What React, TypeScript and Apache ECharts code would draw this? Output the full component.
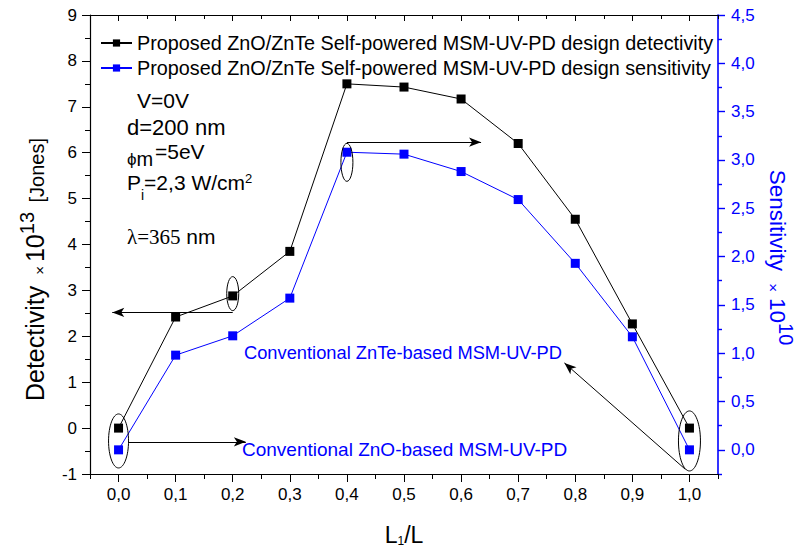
import React, { useEffect, useRef } from "react";
import * as echarts from "echarts";

// L1/L ratio along the device
const ratios = [0, 0.1, 0.2, 0.3, 0.4, 0.5, 0.6, 0.7, 0.8, 0.9, 1.0];
// Detectivity (x10^13 Jones), left axis
const detectivity = [0, 2.42, 2.88, 3.85, 7.5, 7.43, 7.17, 6.2, 4.55, 2.27, 0];
// Sensitivity (x10^10), right axis
const sensitivity = [0, 0.98, 1.18, 1.57, 3.08, 3.06, 2.88, 2.59, 1.93, 1.17, 0];

const xTicks = [0, 0.1, 0.2, 0.3, 0.4, 0.5, 0.6, 0.7, 0.8, 0.9, 1.0];
const xMinorTicks = [-0.05, 0.05, 0.15, 0.25, 0.35, 0.45, 0.55, 0.65, 0.75, 0.85, 0.95, 1.05];
const rightTicks = [0, 0.5, 1, 1.5, 2, 2.5, 3, 3.5, 4, 4.5];
const rightMinorTicks = [-0.25, 0.25, 0.75, 1.25, 1.75, 2.25, 2.75, 3.25, 3.75, 4.25];

const detLegend = "Proposed ZnO/ZnTe Self-powered MSM-UV-PD design detectivity";
const senLegend = "Proposed ZnO/ZnTe Self-powered MSM-UV-PD design sensitivity";

const BLUE = "#0000ff";
const FONT = "Liberation Sans, Arial, sans-serif";
const SERIF = "Liberation Serif, Times New Roman, serif";

// Highlight ellipses around selected points: [x, y(left axis), rx px, ry px]
const highlightEllipses = [
  [0.0, -0.28, 10, 27],
  [0.2, 2.93, 6, 17],
  [0.4, 5.79, 6, 19],
  [1.0, -0.28, 11, 30],
];

// Pointer arrows, in left-axis data units
const pointerArrows = [
  [[0.2, 2.52], [-0.011, 2.52]],
  [[0.4, 6.23], [0.635, 6.23]],
  [[0.018, -0.3], [0.223, -0.3]],
  [[0.993, -0.9], [0.781, 1.42]],
];

const fmt = (v: number) => v.toFixed(1).replace(".", ",");

export default function App() {
  const ref = useRef<HTMLDivElement>(null);

  useEffect(() => {
    document.body.style.margin = "0";
    const chart = echarts.init(ref.current!, null, { renderer: "svg" });

    const baseX = {
      type: "value",
      min: -0.05,
      max: 1.05,
      splitLine: { show: false },
    };

    const option: any = {
      animation: false,
      backgroundColor: "#ffffff",
      textStyle: { fontFamily: FONT },
      grid: { left: 90, right: 84, top: 15, bottom: 77, outerBoundsMode: "none", containLabel: false },
      legend: {
        data: [detLegend, senLegend],
        orient: "vertical",
        left: 95,
        top: 28,
        itemWidth: 31,
        itemHeight: 9,
        itemGap: 5,
        textStyle: { fontSize: 19.8, color: "#000", fontFamily: FONT },
      },
      xAxis: [
        {
          ...baseX,
          position: "bottom",
          name: "{m|L}{sub|1}{m|/L}",
          nameLocation: "middle",
          nameGap: 49,
          nameTextStyle: {
            rich: {
              m: { fontSize: 23, fontFamily: FONT, color: "#000", lineHeight: 24, verticalAlign: "top" },
              sub: { fontSize: 12, fontFamily: FONT, color: "#000", lineHeight: 12, verticalAlign: "bottom" },
            },
          },
          axisLine: { show: true, onZero: false, lineStyle: { color: "#000", width: 1.2 } },
          axisTick: { show: true, inside: false, length: 8, customValues: xTicks, lineStyle: { color: "#000" } },
          axisLabel: { show: true, customValues: xTicks, formatter: fmt, fontSize: 17, color: "#000", margin: 12, fontFamily: FONT },
        },
        {
          ...baseX,
          position: "bottom",
          axisLine: { show: false, onZero: false },
          axisTick: { show: true, inside: false, length: 5, customValues: xMinorTicks, lineStyle: { color: "#000" } },
          axisLabel: { show: false },
        },
        {
          ...baseX,
          position: "top",
          axisLine: { show: true, onZero: false, lineStyle: { color: "#000", width: 1.2 } },
          axisTick: { show: true, inside: true, length: 6, customValues: xTicks, lineStyle: { color: "#000" } },
          axisLabel: { show: false },
        },
        {
          ...baseX,
          position: "top",
          axisLine: { show: false, onZero: false },
          axisTick: { show: true, inside: true, length: 4, customValues: xMinorTicks, lineStyle: { color: "#000" } },
          axisLabel: { show: false },
        },
      ],
      yAxis: [
        {
          type: "value",
          position: "left",
          min: -1,
          max: 9,
          interval: 1,
          splitLine: { show: false },
          axisLine: { show: true, onZero: false, lineStyle: { color: "#000", width: 1.2 } },
          axisTick: { show: true, inside: false, length: 8, lineStyle: { color: "#000" } },
          minorTick: { show: true, splitNumber: 2, length: 5, lineStyle: { color: "#000" } },
          axisLabel: { fontSize: 17, color: "#000", margin: 13, fontFamily: FONT },
          name: "{m|Detectivity }{x|×}{m|10}{s|13}{j| [Jones]}",
          nameLocation: "middle",
          nameRotate: 90,
          nameGap: 43,
          nameTextStyle: {
            padding: [0, 50, 0, 0],
            rich: {
              m: { fontSize: 25, fontFamily: FONT, color: "#000", lineHeight: 30, verticalAlign: "bottom" },
              x: { fontSize: 15, fontFamily: FONT, color: "#000", lineHeight: 24, verticalAlign: "bottom", padding: [0, 4, 0, 4] },
              s: { fontSize: 20, fontFamily: FONT, color: "#000", lineHeight: 20, verticalAlign: "top", padding: [0, 4, 0, 0] },
              j: { fontSize: 20, fontFamily: FONT, color: "#000", lineHeight: 26, verticalAlign: "bottom" },
            },
          },
        },
        {
          type: "value",
          position: "right",
          min: -0.25,
          max: 4.5,
          splitLine: { show: false },
          axisLine: { show: true, onZero: false, lineStyle: { color: BLUE, width: 1.6 } },
          axisTick: { show: true, inside: false, length: 7, customValues: rightTicks, lineStyle: { color: BLUE, width: 1.4 } },
          axisLabel: { customValues: rightTicks, formatter: fmt, fontSize: 17, color: BLUE, margin: 13, fontFamily: FONT },
          name: "{m|Sensitivity }{x|×}{m|10}{s|10}",
          nameLocation: "middle",
          nameRotate: -90,
          nameGap: 48,
          nameTextStyle: {
            padding: [0, 0, 0, 26],
            rich: {
              m: { fontSize: 22.5, fontFamily: FONT, color: BLUE, lineHeight: 30, verticalAlign: "bottom" },
              x: { fontSize: 15, fontFamily: FONT, color: BLUE, lineHeight: 24, verticalAlign: "bottom", padding: [0, 6, 0, 6] },
              s: { fontSize: 20, fontFamily: FONT, color: BLUE, lineHeight: 20, verticalAlign: "top" },
            },
          },
        },
        {
          type: "value",
          position: "right",
          min: -0.25,
          max: 4.5,
          splitLine: { show: false },
          axisLine: { show: false, onZero: false },
          axisTick: { show: true, inside: false, length: 4, customValues: rightMinorTicks, lineStyle: { color: BLUE, width: 1.4 } },
          axisLabel: { show: false },
        },
      ],
      series: [
        {
          name: detLegend,
          type: "line",
          xAxisIndex: 0,
          yAxisIndex: 0,
          data: ratios.map((r, i) => [r, detectivity[i]]),
          symbol: "rect",
          symbolSize: 9,
          lineStyle: { color: "#000", width: 1 },
          itemStyle: { color: "#000" },
          z: 3,
          markLine: {
            silent: true,
            symbol: ["none", "arrow"],
            symbolSize: [7, 12],
            label: { show: false },
            lineStyle: { color: "#000", width: 1, type: "solid" },
            data: pointerArrows.map(([a, b]) => [{ coord: a }, { coord: b }]),
          },
        },
        {
          name: senLegend,
          type: "line",
          xAxisIndex: 0,
          yAxisIndex: 1,
          data: ratios.map((r, i) => [r, sensitivity[i]]),
          symbol: "rect",
          symbolSize: 9,
          lineStyle: { color: BLUE, width: 1 },
          itemStyle: { color: BLUE },
          z: 3,
        },
        {
          type: "custom",
          xAxisIndex: 0,
          yAxisIndex: 0,
          silent: true,
          z: 4,
          data: highlightEllipses,
          renderItem: (_params: any, api: any) => {
            const p = api.coord([api.value(0), api.value(1)]);
            return {
              type: "ellipse",
              shape: { cx: p[0], cy: p[1], rx: api.value(2), ry: api.value(3) },
              style: { fill: "none", stroke: "#000", lineWidth: 1 },
            };
          },
        },
      ],
      graphic: [
        { type: "text", left: 137, top: 89, style: { text: "V=0V", fontSize: 21, lineHeight: 22, fontFamily: FONT, fill: "#000" } },
        { type: "text", left: 127, top: 116, style: { text: "d=200 nm", fontSize: 22, lineHeight: 22, fontFamily: FONT, fill: "#000" } },
        {
          type: "text",
          left: 127,
          top: 149,
          style: {
            text: "{p|ϕ}{sub|m}",
            rich: {
              p: { fontSize: 17, fontFamily: FONT, fill: "#000", lineHeight: 20 },
              sub: { fontSize: 20, fontFamily: FONT, fill: "#000", lineHeight: 20 },
            },
          },
        },
        { type: "text", left: 155, top: 140, style: { text: "=5eV", fontSize: 21, lineHeight: 22, fontFamily: FONT, fill: "#000" } },
        {
          type: "text",
          left: 127,
          top: 172,
          style: {
            text: "{m|P}{sub|i}{m|=2,3 W/cm}{sup|2}",
            rich: {
              m: { fontSize: 21, fontFamily: FONT, fill: "#000", lineHeight: 30, verticalAlign: "top" },
              sub: { fontSize: 14, fontFamily: FONT, fill: "#000", lineHeight: 14, verticalAlign: "bottom" },
              sup: { fontSize: 13, fontFamily: FONT, fill: "#000", lineHeight: 14, verticalAlign: "top" },
            },
          },
        },
        {
          type: "text",
          left: 127,
          top: 226,
          style: {
            text: "{s|λ=365}{m| nm}",
            rich: {
              s: { fontSize: 21, fontFamily: SERIF, fill: "#000" },
              m: { fontSize: 21, fontFamily: FONT, fill: "#000" },
            },
          },
        },
        { type: "text", left: 244, top: 343, style: { text: "Conventional ZnTe-based MSM-UV-PD", fontSize: 18.3, fontFamily: FONT, fill: BLUE } },
        { type: "text", left: 242, top: 440, style: { text: "Conventional ZnO-based MSM-UV-PD", fontSize: 19, fontFamily: FONT, fill: BLUE } },
      ],
    };

    chart.setOption(option);
    return () => chart.dispose();
  }, []);

  return <div ref={ref} style={{ width: 802, height: 551 }} />;
}
